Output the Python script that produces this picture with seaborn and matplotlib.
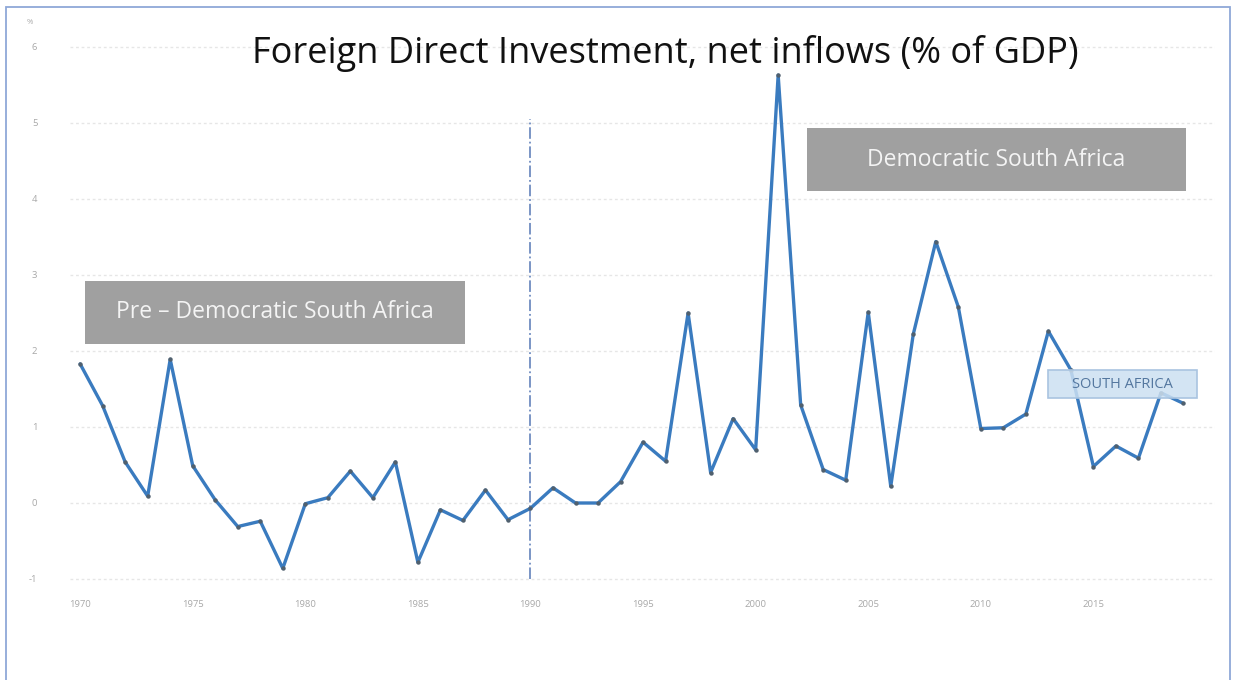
import matplotlib
matplotlib.use("Agg")
import matplotlib.pyplot as plt
from matplotlib.patches import Rectangle
import pandas as pd
import seaborn as sns

# Foreign direct investment, net inflows (% of GDP), South Africa
years = list(range(1970, 2020))
fdi_pct_gdp = [
    1.83, 1.28, 0.54, 0.09, 1.89, 0.49, 0.04, -0.31, -0.24, -0.86,
    -0.01, 0.07, 0.42, 0.07, 0.54, -0.78, -0.09, -0.23, 0.17, -0.22,
    -0.07, 0.20, 0.00, 0.00, 0.28, 0.80, 0.55, 2.50, 0.40, 1.11,
    0.70, 5.63, 1.29, 0.44, 0.30, 2.51, 0.22, 2.22, 3.44, 2.58,
    0.98, 0.99, 1.17, 2.26, 1.75, 0.48, 0.75, 0.59, 1.45, 1.31,
]
x_ticks = [1970, 1975, 1980, 1985, 1990, 1995, 2000, 2005, 2010, 2015]
y_ticks = [-1, 0, 1, 2, 3, 4, 5, 6]
transition_year = 1990

df = pd.DataFrame({"year": years, "fdi": fdi_pct_gdp})

sns.set_theme(style="white")
plt.rcParams["font.family"] = ["Open Sans", "DejaVu Sans"]

W, H = 1234, 680
fig = plt.figure(figsize=(W / 100, H / 100), dpi=100)
fig.patch.set_facecolor("white")


def fx(px):
    return px / W


def fy(py):
    return 1 - py / H


ax = fig.add_axes([fx(70), fy(590.4), (1215 - 70) / W, 551 / H])
ax.set_xlim(1969.55, 2020.4)
ax.set_ylim(-1.15, 6.1)

# faint dotted horizontal gridlines
for yv in y_ticks:
    ax.axhline(yv, color="#e6e6e6", lw=1.0, ls=(0, (2, 2)), zorder=0)

# period separator
ax.plot([transition_year, transition_year], [-1, 5.05], color="#6f8cc0",
        lw=1.3, ls="-.", zorder=1)

sns.lineplot(data=df, x="year", y="fdi", ax=ax, color="#3a7bbf", lw=2.4,
             marker="o", markersize=3.2, markerfacecolor="#50606e",
             markeredgewidth=0, zorder=3)

ax.set_xticks(x_ticks)
ax.set_yticks(y_ticks)
ax.set_xticklabels([str(v) for v in x_ticks])
ax.set_yticklabels([str(v) for v in y_ticks])
ax.tick_params(axis="both", length=0, labelsize=6.8, labelcolor="#a8a8a8")
ax.tick_params(axis="y", pad=23.5)
ax.tick_params(axis="x", pad=6.7)
ax.set_xlabel("")
ax.set_ylabel("")
for s in ax.spines.values():
    s.set_visible(False)
ax.set_facecolor("none")

# series label (semi-transparent tag over the line)
lx0, ly0, lx1, ly1 = 1048, 370, 1197, 398
fig.patches.append(Rectangle((fx(lx0), fy(ly1)), fx(lx1 - lx0), (ly1 - ly0) / H,
                             transform=fig.transFigure, fc=(0.80, 0.88, 0.95, 0.85),
                             ec="#a9c4e0", lw=1.2, zorder=5))
fig.text(fx((lx0 + lx1) / 2), fy((ly0 + ly1) / 2), "SOUTH AFRICA",
         ha="center", va="center", fontsize=10.5, color="#54779f", zorder=6)

# period banners
for (x0, y0, x1, y1, label) in [
    (85, 281, 465, 344, "Pre \u2013 Democratic South Africa"),
    (807, 128, 1186, 191, "Democratic South Africa"),
]:
    fig.patches.append(Rectangle((fx(x0), fy(y1)), fx(x1 - x0), (y1 - y0) / H,
                                 transform=fig.transFigure, fc="#a0a0a0",
                                 ec="none", zorder=4))
    fig.text(fx((x0 + x1) / 2), fy((y0 + y1) / 2), label, ha="center",
             va="center", fontsize=16.5, color="#f4f4f4", zorder=5)

fig.text(fx(665), fy(53), "Foreign Direct Investment, net inflows (% of GDP)",
         ha="center", va="center", fontsize=26, color="#111111")
fig.text(fx(30), fy(22), "%", ha="center", va="center", fontsize=5.5,
         color="#a8a8a8")

# outer frame
fig.patches.append(Rectangle((fx(6), fy(700)), fx(1230 - 6), (700 - 7) / H,
                             transform=fig.transFigure, fc="none",
                             ec="#8fa8d8", lw=1.3, zorder=6))

fig.savefig("out.png", dpi=100)
